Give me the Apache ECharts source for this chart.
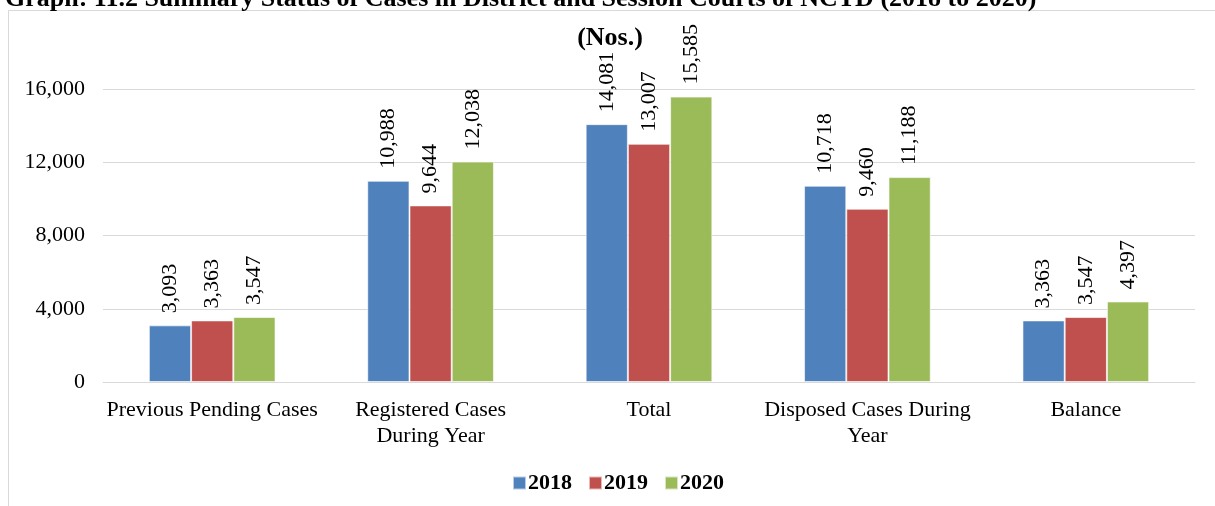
<!DOCTYPE html>
<html lang="en">
<head>
    <meta charset="UTF-8">
    <title>Summary Status of Cases</title>
    <script src="https://cdn.jsdelivr.net/npm/echarts@6/dist/echarts.min.js"></script>
    <style>
        html, body { margin: 0; padding: 0; background: #fff; }
    </style>
</head>
<body>
    <div id="main" style="width: 1215px;height:506px;"></div>

    <script type="text/javascript">

        var categories = ['Previous Pending Cases', 'Registered Cases\nDuring Year', 'Total', 'Disposed Cases During\nYear', 'Balance']
        var years = ['2018', '2019', '2020']
        var cases2018 = [3093, 10988, 14081, 10718, 3363]
        var cases2019 = [3363, 9644, 13007, 9460, 3547]
        var cases2020 = [3547, 12038, 15585, 11188, 4397]
        var yTicks = [0, 4000, 8000, 12000, 16000]
        var colors = ['#4F81BD', '#C0504D', '#9BBB59']

        var font = "'Liberation Serif', 'Times New Roman', serif"

        var myChart = echarts.init(document.getElementById('main'));

        function makeSeries(name, data, color) {
            return {
                name: name,
                type: 'bar',
                data: data,
                barGap: '0%',
                barCategoryGap: '42%',
                itemStyle: { color: color, borderColor: 'rgba(255,255,255,0.6)', borderWidth: 1 },
                label: {
                    show: true,
                    position: 'top',
                    rotate: 90,
                    align: 'left',
                    verticalAlign: 'middle',
                    distance: 12,
                    fontFamily: font,
                    fontSize: 22,
                    color: '#000',
                    formatter: function (p) { return p.value.toLocaleString('en-US') }
                }
            }
        }

        var option = {
            animation: false,
            textStyle: { fontFamily: font },
            title: [{
                text: 'Graph: 11.2 Summary Status of Cases in District and Session Courts of NCTD (2018 to 2020)',
                left: 0,
                top: -19,
                textStyle: { fontFamily: font, fontSize: 26, fontWeight: 'bold', color: '#000' }
            }, {
                text: '(Nos.)',
                left: 605,
                top: 20,
                textAlign: 'center',
                textStyle: { fontFamily: font, fontSize: 26, fontWeight: 'bold', color: '#000' }
            }],
            graphic: [{
                type: 'rect',
                shape: { x: 8.5, y: 10.5, width: 1220, height: 520 },
                style: { fill: 'none', stroke: '#d9d9d9', lineWidth: 1 },
                silent: true
            }],
            legend: {
                data: years,
                top: 467,
                left: 507,
                itemWidth: 13,
                itemHeight: 13,
                itemGap: 16,
                icon: 'rect',
                textStyle: { fontFamily: font, fontSize: 22, fontWeight: 'bold', color: '#000', padding: [0, 0, 0, -3] }
            },
            grid: { left: 103, right: 20, top: 89, bottom: 124, containLabel: false },
            xAxis: {
                type: 'category',
                data: categories,
                axisTick: { show: false },
                axisLine: { lineStyle: { color: '#d9d9d9' } },
                axisLabel: { fontFamily: font, fontSize: 22, color: '#000', margin: 15, lineHeight: 26, interval: 0 }
            },
            yAxis: {
                type: 'value',
                min: yTicks[0],
                max: yTicks[yTicks.length - 1],
                interval: 4000,
                axisLine: { show: false },
                axisTick: { show: false },
                splitLine: { lineStyle: { color: '#d9d9d9' } },
                axisLabel: {
                    fontFamily: font, fontSize: 22, color: '#000', margin: 18,
                    formatter: function (v) { return v.toLocaleString('en-US') }
                }
            },
            series: [
                makeSeries(years[0], cases2018, colors[0]),
                makeSeries(years[1], cases2019, colors[1]),
                makeSeries(years[2], cases2020, colors[2])
            ]
        };
        myChart.setOption(option);
    </script>
</body>
</html>
